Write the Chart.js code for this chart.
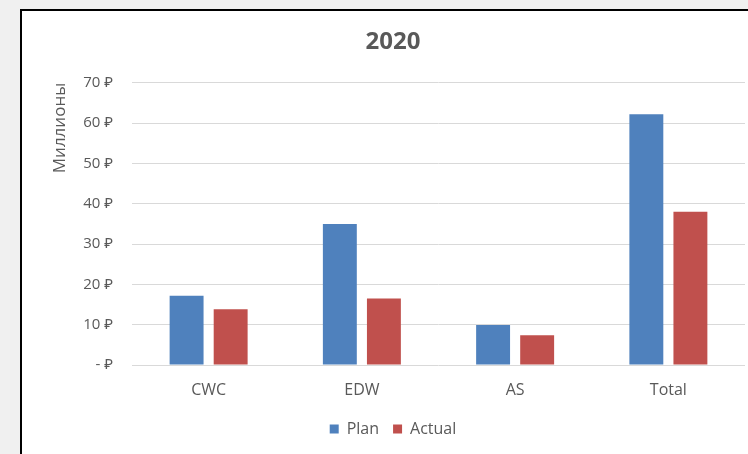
<!DOCTYPE html>
<html>
<head>
<meta charset="utf-8">
<script src="https://cdn.jsdelivr.net/npm/chart.js@4"></script>
<style>
  body { margin: 0; background: #f0f0f0; overflow: hidden; }
  #frame {
    position: absolute; left: 20px; top: 9px;
    width: 742px; height: 449px;
    border: 2px solid #000; background: #fff;
  }
</style>
</head>
<body>
<div id="frame"><canvas id="chart" width="742" height="449"></canvas></div>
<script>
const categories = ["CWC", "EDW", "AS", "Total"];
const planValues = [17.2, 35.0, 9.9, 62.2];
const actualValues = [13.8, 16.5, 7.4, 38.0];
const yTicks = [0, 10, 20, 30, 40, 50, 60, 70];

const textColor = "#595959";
const font = "'Open Sans', 'Noto Sans', sans-serif";

new Chart(document.getElementById("chart"), {
  type: "bar",
  data: {
    labels: categories,
    datasets: [
      {
        label: "Plan",
        data: planValues,
        backgroundColor: "#4F81BD",
        barPercentage: 0.77,
        categoryPercentage: 0.575,
      },
      {
        label: "Actual",
        data: actualValues,
        backgroundColor: "#C0504D",
        barPercentage: 0.77,
        categoryPercentage: 0.575,
      },
    ],
  },
  options: {
    responsive: false,
    animation: false,
    layout: { padding: { left: 19, right: 19, bottom: 13 } },
    plugins: {
      title: {
        display: true,
        text: "2020",
        color: textColor,
        font: { family: font, size: 24, weight: "bold" },
        padding: { top: 17, bottom: 26 },
      },
      legend: {
        position: "bottom",
        labels: {
          color: textColor,
          font: { family: font, size: 16 },
          boxWidth: 9,
          boxHeight: 9,
          padding: 14,
        },
      },
      tooltip: { enabled: false },
    },
    scales: {
      x: {
        grid: { display: false },
        border: { display: false },
        ticks: { color: textColor, font: { family: font, size: 16 }, padding: 8 },
        afterFit: (axis) => { axis.height = 42; },
      },
      y: {
        min: 0,
        max: 70,
        afterBuildTicks: (axis) => {
          axis.ticks = yTicks.map((v) => ({ value: v }));
        },
        afterFit: (axis) => { axis.width = 91; },
        grid: { color: "#D9D9D9", drawTicks: false },
        border: { display: false },
        ticks: {
          color: textColor,
          font: { family: font, size: 15 },
          padding: 19,
          callback: (v) => (v === 0 ? "- ₽" : v + " ₽"),
        },
        title: {
          display: true,
          text: "Миллионы",
          align: "end",
          color: textColor,
          font: { family: font, size: 17 },
          padding: { top: 9, bottom: 0 },
        },
      },
    },
  },
});
</script>
</body>
</html>
